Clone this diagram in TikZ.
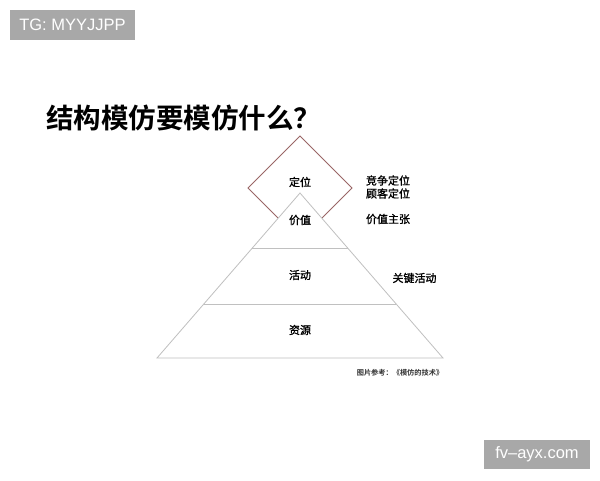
\documentclass[tikz,border=0pt]{standalone}
\usepackage{fontspec}
\setmainfont{Liberation Sans}
\newfontfamily\cjk[FakeBold=1.2]{Noto Sans CJK SC}
\newfontfamily\cjkb{Noto Sans CJK SC Bold}
\definecolor{tag}{HTML}{A8A8A8}
\definecolor{dia}{HTML}{9A6666}
\definecolor{tri}{HTML}{C0C0C0}
\begin{document}
\begin{tikzpicture}[x=1pt,y=-1pt,
  tagbox/.style={fill=tag,text=white,inner sep=0pt,font=\fontsize{16.5}{18}\selectfont},
  lvl/.style={font=\cjk\fontsize{11}{12}\selectfont,inner sep=0pt},
  side/.style={font=\cjk\fontsize{11}{13}\selectfont,inner sep=0pt,align=center}]
\useasboundingbox[fill=white] (0,0) rectangle (600,480);
% tags
\node[tagbox,minimum width=125pt,minimum height=30pt] (tg) at (72.5,25) {TG: MYYJJPP};
\node[tagbox,minimum width=106pt,minimum height=29pt] (fv) at (537,454.5) {fv–ayx.com};
% title
\node[font=\cjkb\fontsize{27.5}{30}\selectfont,anchor=west,inner sep=0pt] (title) at (46,118) {结构模仿要模仿什么？};
% diamond
\coordinate (dt) at (300,136);
\coordinate (dl) at (248,188);
\coordinate (dr) at (352,188);
\coordinate (db) at (300,240);
\draw[dia,line width=0.8pt] (dt) -- (dr) -- (db) -- (dl) -- cycle;
% pyramid
\coordinate (apex) at (300,193);
\coordinate (bl) at (157,358);
\coordinate (br) at (443,358);
\coordinate (l1a) at (252.3,248);
\coordinate (l1b) at (347.7,248);
\coordinate (l2a) at (203.8,304);
\coordinate (l2b) at (396.2,304);
\filldraw[fill=white,draw=tri,line width=0.8pt] (apex) -- (br) -- (bl) -- cycle;
\draw[tri,line width=0.8pt] (l1a) -- (l1b);
\draw[tri,line width=0.8pt] (l2a) -- (l2b);
% level labels
\node[lvl] (dw) at (300,182) {定位};
\node[lvl] (jz) at (300,220) {价值};
\node[lvl] (hd) at (300,275) {活动};
\node[lvl] (zy) at (300,330) {资源};
% side labels
\node[side] (s1) at (388,187) {竞争定位\\顾客定位};
\node[side] (s2) at (388,219) {价值主张};
\node[side] (s3) at (414.5,278) {关键活动};
% source
\node[font=\cjkb\fontsize{7.2}{8}\selectfont,text=black!80,inner sep=0pt] (src) at (400,373) {图片参考：《模仿的技术》};
\end{tikzpicture}
\end{document}
